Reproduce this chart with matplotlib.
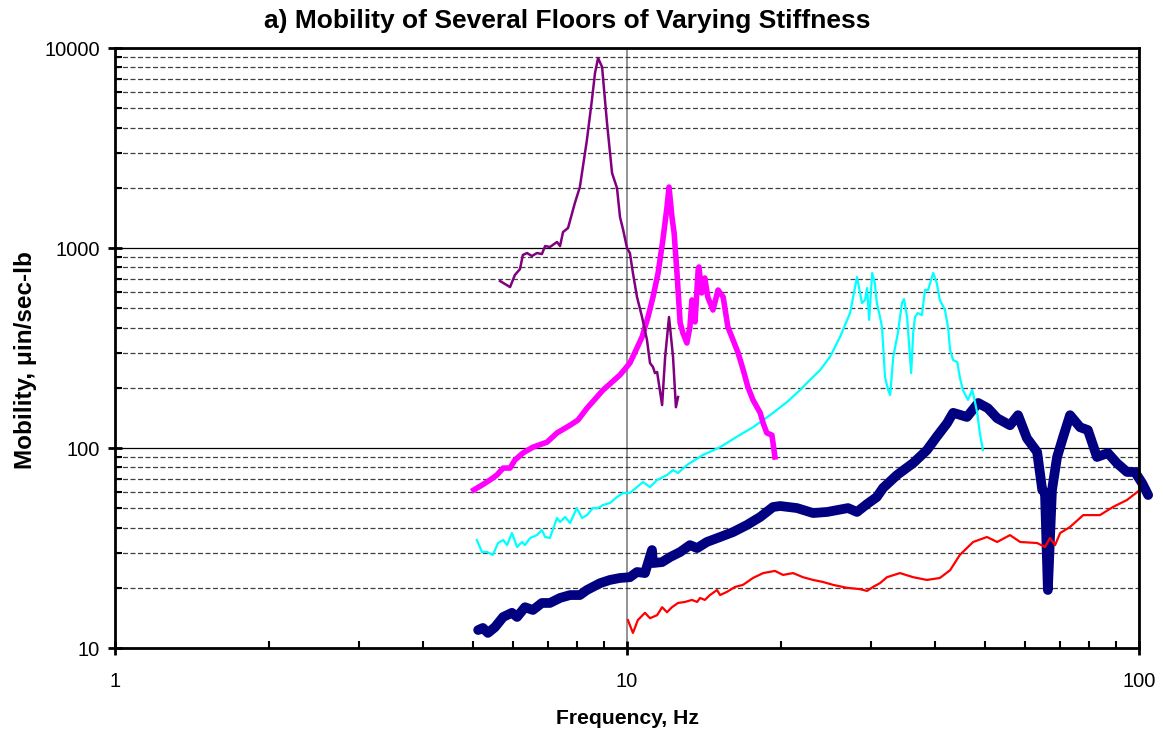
#!/usr/bin/env python3
"""Mobility of several floors of varying stiffness (log-log)."""

import matplotlib
matplotlib.use("Agg")
import matplotlib.pyplot as plt
from matplotlib.ticker import FixedLocator, FuncFormatter, LogLocator, NullFormatter

plt.rcParams["font.family"] = ["Liberation Sans", "DejaVu Sans"]

# --- data (Hz, micro-in/sec-lb) ---
purple_f = [5.65, 5.91, 6.04, 6.18, 6.26, 6.38, 6.52, 6.67, 6.82, 6.92, 7.07, 7.30,
            7.40, 7.50, 7.67, 7.91, 8.09, 8.35, 8.54, 8.66, 8.78, 8.94, 9.14, 9.35,
            9.56, 9.69, 9.83, 10.0, 10.13, 10.27, 10.46, 10.70, 10.94, 11.09, 11.24,
            11.34, 11.45, 11.71, 11.87, 12.08, 12.30, 12.46, 12.58]
purple_m = [684, 638, 733, 785, 923, 944, 912, 944, 933, 1023, 1012, 1072,
            1023, 1202, 1259, 1679, 2018, 3467, 5495, 7499, 8913, 8035, 4217, 2371,
            1995, 1429, 1230, 1000, 944, 750, 569, 452, 347, 266, 254,
            237, 240, 164, 285, 452, 285, 160, 180]

magenta_f = [5.02, 5.21, 5.40, 5.57, 5.73, 5.91, 6.04, 6.26, 6.55, 6.98, 7.30, 7.74,
             8.02, 8.35, 8.98, 9.69, 10.13, 10.37, 10.70, 10.99, 11.24, 11.50, 11.75,
             11.97, 12.08, 12.24, 12.36, 12.52, 12.70, 12.86, 13.09, 13.27, 13.39,
             13.58, 13.77, 13.82, 13.99, 14.19, 14.38, 14.72, 15.06, 15.41, 15.74,
             16.11, 16.48, 16.87, 17.22, 17.62, 18.20, 18.45, 18.75, 19.19, 19.45]
magenta_m = [61.7, 65.3, 69.2, 73.3, 79.4, 79.4, 87.1, 94.4, 101, 107, 119, 130,
             138, 158, 195, 232, 266, 302, 359, 452, 569, 750, 1096,
             1603, 2018, 1429, 1189, 750, 422, 376, 335, 403, 550,
             427, 776, 804, 596, 708, 569, 490, 617, 569, 403,
             347, 299, 245, 202, 174, 150, 133, 119, 116, 90.2]

cyan_f = [5.09, 5.21, 5.33, 5.47, 5.60, 5.73, 5.83, 5.96, 6.10, 6.24, 6.32, 6.47,
          6.67, 6.82, 6.92, 7.07, 7.16, 7.30, 7.40, 7.57, 7.74, 7.98, 8.17, 8.35,
          8.58, 8.78, 8.98, 9.26, 9.56, 9.83, 10.13, 10.46, 10.74, 11.09, 11.45,
          11.97, 12.30, 12.58, 13.09, 14.07, 15.20, 16.40, 17.62, 19.03, 20.54,
          21.78, 22.76, 23.82, 24.90, 26.06, 27.27, 28.13, 28.77, 29.17, 29.44,
          29.71, 30.12, 30.48, 30.76, 31.19, 31.48, 31.91, 32.36, 32.66, 33.11,
          33.81, 34.43, 34.75, 35.24, 35.89, 36.22, 36.52, 36.98, 37.67, 38.19,
          38.73, 39.63, 40.27, 40.83, 41.78, 42.36, 42.76, 43.35, 44.16, 44.67,
          45.29, 46.34, 47.21, 47.42, 48.31, 48.87, 49.55]
cyan_m = [34.7, 30.2, 30.2, 29.2, 33.5, 34.7, 32.7, 37.6, 32.0, 33.9, 32.7, 35.5,
          36.7, 38.9, 35.9, 35.5, 38.9, 44.7, 42.7, 45.2, 42.2, 50.1, 44.7, 46.2,
          50.1, 50.1, 51.9, 53.1, 56.9, 59.6, 59.6, 63.8, 67.6, 63.8, 69.2,
          73.3, 77.6, 75.0, 82.2, 92.3, 101, 114, 127, 146, 170,
          195, 219, 245, 285, 359, 473, 716, 531, 550, 631,
          437, 750, 668, 531, 452, 403, 226, 195, 184, 285,
          376, 531, 556, 452, 237, 376, 452, 473, 462, 617,
          617, 750, 668, 550, 490, 403, 309, 275, 269, 226,
          195, 174, 195, 188, 150, 119, 97.7]

navy_f = [5.12, 5.23, 5.35, 5.52, 5.73, 5.96, 6.10, 6.32, 6.55, 6.82, 7.07, 7.40,
          7.74, 8.09, 8.35, 8.86, 9.26, 9.69, 10.13, 10.46, 10.84, 11.19, 11.24,
          11.71, 12.14, 12.70, 13.27, 13.71, 14.32, 15.20, 16.11, 17.14, 18.20,
          19.28, 19.91, 21.48, 23.09, 24.60, 27.02, 28.13, 29.44, 30.76, 31.62,
          33.68, 36.22, 38.53, 40.27, 42.17, 43.35, 46.13, 48.53, 50.70, 52.84,
          55.98, 58.04, 60.40, 63.24, 64.71, 65.51, 66.37, 67.61, 69.18, 71.12,
          73.33, 76.74, 79.45, 82.78, 86.94, 90.51, 94.76, 98.17, 101.4, 104.2]
navy_m = [12.3, 12.6, 11.9, 12.7, 14.3, 15.0, 14.3, 16.0, 15.5, 16.8, 16.8, 17.8,
          18.4, 18.4, 19.5, 21.1, 21.9, 22.4, 22.6, 24.0, 23.7, 30.9, 26.6,
          26.9, 28.5, 30.2, 32.7, 31.6, 33.9, 35.9, 38.0, 41.2, 45.2,
          50.7, 51.3, 50.1, 47.3, 47.9, 50.1, 47.9, 52.5, 56.9, 63.1,
          73.3, 84.1, 97.7, 114, 133, 150, 143, 168, 158, 141,
          130, 146, 112, 95.5, 61.7, 59.6, 19.5, 61.7, 90.2, 114,
          146, 127, 123, 90.2, 94.4, 84.1, 75.9, 75.9, 66.8, 58.2]

red_f = [10.04, 10.27, 10.50, 10.84, 11.09, 11.45, 11.71, 11.97, 12.24, 12.58, 12.98,
         13.39, 13.71, 13.89, 14.19, 14.52, 14.99, 15.20, 15.68, 16.25, 16.85, 17.62,
         18.45, 19.45, 20.17, 21.10, 22.07, 23.09, 24.13, 25.25, 26.90, 28.51, 29.44,
         30.23, 31.19, 32.19, 34.12, 36.22, 38.53, 40.83, 42.76, 44.67, 47.42, 50.47,
         52.84, 55.98, 58.61, 63.24, 65.51, 66.99, 68.55, 70.15, 73.33, 77.80, 83.89,
         88.92, 94.76, 100.4]
red_m = [13.8, 11.9, 13.8, 15.0, 14.1, 14.6, 16.0, 15.1, 16.0, 16.8, 17.0,
         17.4, 17.0, 17.8, 17.4, 18.4, 19.5, 18.4, 19.1, 20.2, 20.7, 22.4,
         23.7, 24.3, 23.2, 23.7, 22.6, 21.9, 21.4, 20.7, 20.0, 19.7, 19.3,
         20.2, 21.1, 22.6, 23.7, 22.6, 21.9, 22.4, 24.5, 29.2, 33.9, 35.9,
         33.9, 36.7, 33.9, 33.5, 32.0, 35.5, 32.7, 37.6, 40.3, 46.2, 46.2,
         50.7, 55.0, 61.7]

x_ticks = [1, 10, 100]
y_ticks = [10, 100, 1000, 10000]

fig = plt.figure(figsize=(11.65, 7.31), dpi=100)
ax = fig.add_axes([0.0987, 0.1135, 0.879, 0.8208])
ax.set_xscale("log")
ax.set_yscale("log")
ax.set_xlim(1, 100)
ax.set_ylim(10, 10000)

# grid: solid at decades, dashed at the minor values (horizontal only)
ax.yaxis.set_minor_locator(LogLocator(base=10, subs=range(2, 10)))
ax.xaxis.set_minor_locator(LogLocator(base=10, subs=range(2, 10)))
ax.grid(True, axis="y", which="major", color="black", lw=0.9)
ax.grid(True, axis="y", which="minor", color="#404040", lw=0.9, ls=(0, (4, 2)))
ax.grid(True, axis="x", which="major", color="#808080", lw=1.2)
ax.set_axisbelow(True)

ax.plot(navy_f, navy_m, color="#000080", lw=7, solid_capstyle="round",
        solid_joinstyle="round", clip_on=False)
ax.plot(red_f, red_m, color="#FF0000", lw=1.6)
ax.plot(cyan_f, cyan_m, color="#00FFFF", lw=1.6)
ax.plot(magenta_f, magenta_m, color="#FF00FF", lw=4, solid_joinstyle="round")
ax.plot(purple_f, purple_m, color="#800080", lw=1.8)

fmt = FuncFormatter(lambda v, _: f"{v:g}")
ax.xaxis.set_major_locator(FixedLocator(x_ticks))
ax.yaxis.set_major_locator(FixedLocator(y_ticks))
ax.xaxis.set_major_formatter(fmt)
ax.yaxis.set_major_formatter(fmt)
ax.xaxis.set_minor_formatter(NullFormatter())
ax.yaxis.set_minor_formatter(NullFormatter())
ax.tick_params(which="major", direction="inout", length=10, width=2, labelsize=14.5)
ax.tick_params(axis="x", which="major", pad=12)
ax.tick_params(axis="y", which="major", pad=6)
ax.tick_params(which="minor", direction="in", length=5, width=1.5)
for s in ax.spines.values():
    s.set_linewidth(2)

fig.text(0.487, 0.971, "a) Mobility of Several Floors of Varying Stiffness",
         fontsize=19, fontweight="bold", ha="center", va="center")
ax.set_xlabel("Frequency, Hz", fontsize=15.2, fontweight="bold", labelpad=13)
ax.set_ylabel("Mobility, \u03bcin/sec-lb", fontsize=17.5, fontweight="bold")
ax.yaxis.set_label_coords(-0.076, 0.48)

fig.savefig("out.png", dpi=100)
